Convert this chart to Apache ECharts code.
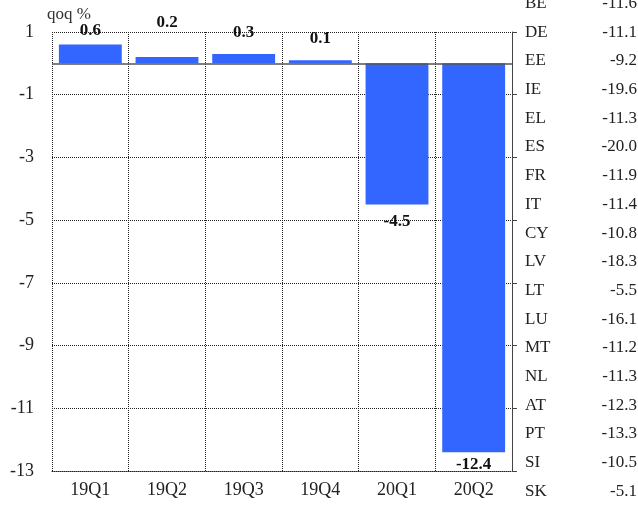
<!DOCTYPE html>
<html>
<head>
<meta charset="utf-8">
<script src="https://cdn.jsdelivr.net/npm/echarts@6/dist/echarts.min.js"></script>
<style>
  html, body { margin: 0; padding: 0; background: #fff; }
  #chart { width: 638px; height: 507px; }
</style>
</head>
<body>
<div id="chart"></div>
<script>
// quarters and qoq growth
const quarters = ['19Q1', '19Q2', '19Q3', '19Q4', '20Q1', '20Q2'];
const qoqValues = [0.6, 0.2, 0.3, 0.1, -4.5, -12.4];

// country table on the right
const countries = ['BE', 'DE', 'EE', 'IE', 'EL', 'ES', 'FR', 'IT', 'CY', 'LV', 'LT', 'LU', 'MT', 'NL', 'AT', 'PT', 'SI', 'SK'];
const countryValues = ['-11.6', '-11.1', '-9.2', '-19.6', '-11.3', '-20.0', '-11.9', '-11.4', '-10.8', '-18.3', '-5.5', '-16.1', '-11.2', '-11.3', '-12.3', '-13.3', '-10.5', '-5.1'];

// y-axis range
const yMin = -13;
const yMax = 1;
const yStep = 2;

// small vertical nudges for the value labels (style only)
const labelShift = [0, -21, -8, -8, 6, 1];

const serif = '"Liberation Serif", "DejaVu Serif", serif';
const chart = echarts.init(document.getElementById('chart'));

const tableText = [];
countries.forEach((c, i) => {
  const y = 4 + i * 28.7;
  tableText.push({
    type: 'text', left: 525, top: y - 9,
    style: { text: c, font: '17px ' + serif, fill: '#222' }
  });
  tableText.push({
    type: 'text', right: 1, top: y - 9,
    style: { text: countryValues[i], font: '17px ' + serif, fill: '#222', textAlign: 'right' }
  });
});

const dotted = { color: '#222', width: 1, type: [1, 1] };

chart.setOption({
  animation: false,
  textStyle: { fontFamily: serif },
  grid: { left: 52, right: 126, top: 32, bottom: 36 },
  xAxis: {
    type: 'category',
    data: quarters,
    position: 'bottom',
    axisLine: { show: true, onZero: false, lineStyle: dotted },
    axisTick: { show: false },
    axisLabel: { color: '#222', fontSize: 18, margin: 10, fontFamily: serif },
    splitLine: { show: true, lineStyle: dotted }
  },
  yAxis: [
    {
      type: 'value',
      min: yMin, max: yMax, interval: yStep,
      name: 'qoq %',
      nameLocation: 'end',
      nameGap: 9,
      nameTextStyle: { color: '#333', fontSize: 17, fontFamily: serif, padding: [0, 0, 0, 34] },
      axisLine: { show: false },
      axisTick: { show: false },
      axisLabel: { color: '#222', fontSize: 18, margin: 18, fontFamily: serif },
      splitLine: { show: true, lineStyle: dotted }
    },
    {
      type: 'value',
      position: 'right',
      min: yMin, max: yMax, interval: yStep,
      axisLine: { show: true, lineStyle: { color: '#444', width: 1 } },
      axisTick: { show: true, inside: false, length: 5, lineStyle: { color: '#444' } },
      axisLabel: { show: false },
      splitLine: { show: false }
    }
  ],
  series: [{
    type: 'bar',
    data: qoqValues.map((v, i) => ({
      value: v,
      label: {
        position: v >= 0 ? 'top' : 'bottom',
        distance: v >= 0 ? 5 : 3,
        offset: [0, labelShift[i]]
      }
    })),
    barCategoryGap: '18%',
    itemStyle: { color: '#3366ff' },
    label: {
      show: true,
      color: '#111',
      fontWeight: 'bold',
      fontSize: 17,
      fontFamily: serif,
      formatter: p => p.value.toFixed(1)
    },
    markLine: {
      silent: true,
      symbol: 'none',
      label: { show: false },
      lineStyle: { color: '#555', width: 1.5, type: 'solid' },
      data: [{ yAxis: 0 }]
    }
  }],
  graphic: tableText
});
</script>
</body>
</html>
